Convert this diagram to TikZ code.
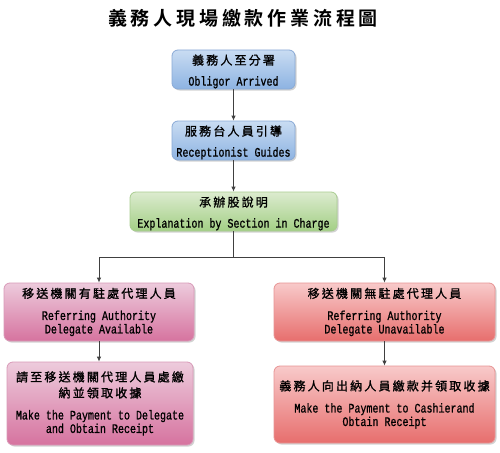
\documentclass[tikz,border=0pt]{standalone}
\usepackage{fontspec}
\usetikzlibrary{shadows,arrows.meta}
\newfontfamily\cjk{Noto Sans CJK TC}[LetterSpace=18, FakeBold=1.2]
\newfontfamily\cjktitle{Noto Sans CJK TC Bold}[LetterSpace=20]
\newfontfamily\lat{Liberation Mono}[FakeStretch=0.77, FakeBold=0.9]
\definecolor{bluetop}{HTML}{C9DCF2}
\definecolor{bluebot}{HTML}{8DB3E2}
\definecolor{blueline}{HTML}{8AAAD6}
\definecolor{greentop}{HTML}{DCEBCF}
\definecolor{greenbot}{HTML}{A3CF85}
\definecolor{greenline}{HTML}{A9CD90}
\definecolor{pinktop}{HTML}{EDCBDC}
\definecolor{pinkbot}{HTML}{D6739F}
\definecolor{pinkline}{HTML}{D99AB8}
\definecolor{redtop}{HTML}{F8CACA}
\definecolor{redbot}{HTML}{E76E6D}
\definecolor{redline}{HTML}{E89494}
\definecolor{arrowgray}{HTML}{404040}
\tikzset{
  boxbase/.style={rectangle, rounded corners=6pt, line width=0.8pt, inner xsep=0pt,
    inner ysep=0pt, align=center, font=\lat\fontsize{13}{13.5}\selectfont,
    drop shadow={opacity=0.35, shadow xshift=1.5pt, shadow yshift=-1.5pt}},
  bluebox/.style={boxbase, draw=blueline, top color=bluetop, bottom color=bluebot},
  greenbox/.style={boxbase, draw=greenline, top color=greentop, bottom color=greenbot},
  pinkbox/.style={boxbase, draw=pinkline, top color=pinktop, bottom color=pinkbot},
  redbox/.style={boxbase, draw=redline, top color=redtop, bottom color=redbot},
  arr/.style={draw=arrowgray, line width=0.8pt, -{Latex[length=5pt,width=4.5pt]}},
  conn/.style={draw=arrowgray, line width=0.8pt}
}
\newcommand{\zh}[1]{{\cjk\fontsize{12}{13.5}\selectfont #1}}
\newcommand{\zhtop}[1]{{\rule{0pt}{14pt}\cjk\fontsize{12}{13.5}\selectfont #1}}
\begin{document}
\begin{tikzpicture}[x=1pt,y=-1pt]
\useasboundingbox[fill=white] (0,0) rectangle (500,452);
\node[font=\cjktitle\fontsize{19}{22}\selectfont] (title) at (243,18) {義務人現場繳款作業流程圖};
\node[bluebox, minimum width=123pt, minimum height=39pt] (b1) at (233.5,69.5)
  {\zhtop{義務人至分署}\\[7.5pt]Obligor Arrived};
\node[bluebox, minimum width=123pt, minimum height=39pt] (b2) at (233.5,140.5)
  {\zhtop{服務台人員引導}\\[7.5pt]Receptionist Guides};
\node[greenbox, minimum width=207pt, minimum height=39pt] (b3) at (233.5,211.5)
  {\zhtop{承辦股說明}\\[7.5pt]Explanation by Section in Charge};
\node[pinkbox, minimum width=190pt, minimum height=58pt] (b4l) at (99,312)
  {\zh{移送機關有駐處代理人員}\\[8.5pt]Referring Authority\\Delegate Available};
\node[redbox, minimum width=221pt, minimum height=58pt] (b4r) at (384.5,312)
  {\zh{移送機關無駐處代理人員}\\[8.5pt]Referring Authority\\Delegate Unavailable};
\node[pinkbox, minimum width=186pt, minimum height=83pt] (b5l) at (100,403.5)
  {\zh{請至移送機關代理人員處繳}\\[2.5pt]\zh{納並領取收據}\\[8.5pt]Make the Payment to Delegate\\and Obtain Receipt};
\node[redbox, minimum width=221pt, minimum height=77pt] (b5r) at (384.5,404.5)
  {\zh{義務人向出納人員繳款并領取收據}\\[8.5pt]Make the Payment to Cashierand\\Obtain Receipt};
\coordinate (j) at (233.5,257);
\draw[arr] (b1) -- (b2);
\draw[arr] (b2) -- (b3);
\draw[conn] (b3.south) -- (j);
\draw[arr] (j) -| (b4l.north);
\draw[arr] (j) -| (b4r.north);
\draw[arr] (b4l.south) -- (b4l.south |- b5l.north);
\draw[arr] (b4r.south) -- (b4r.south |- b5r.north);
\end{tikzpicture}
\end{document}
